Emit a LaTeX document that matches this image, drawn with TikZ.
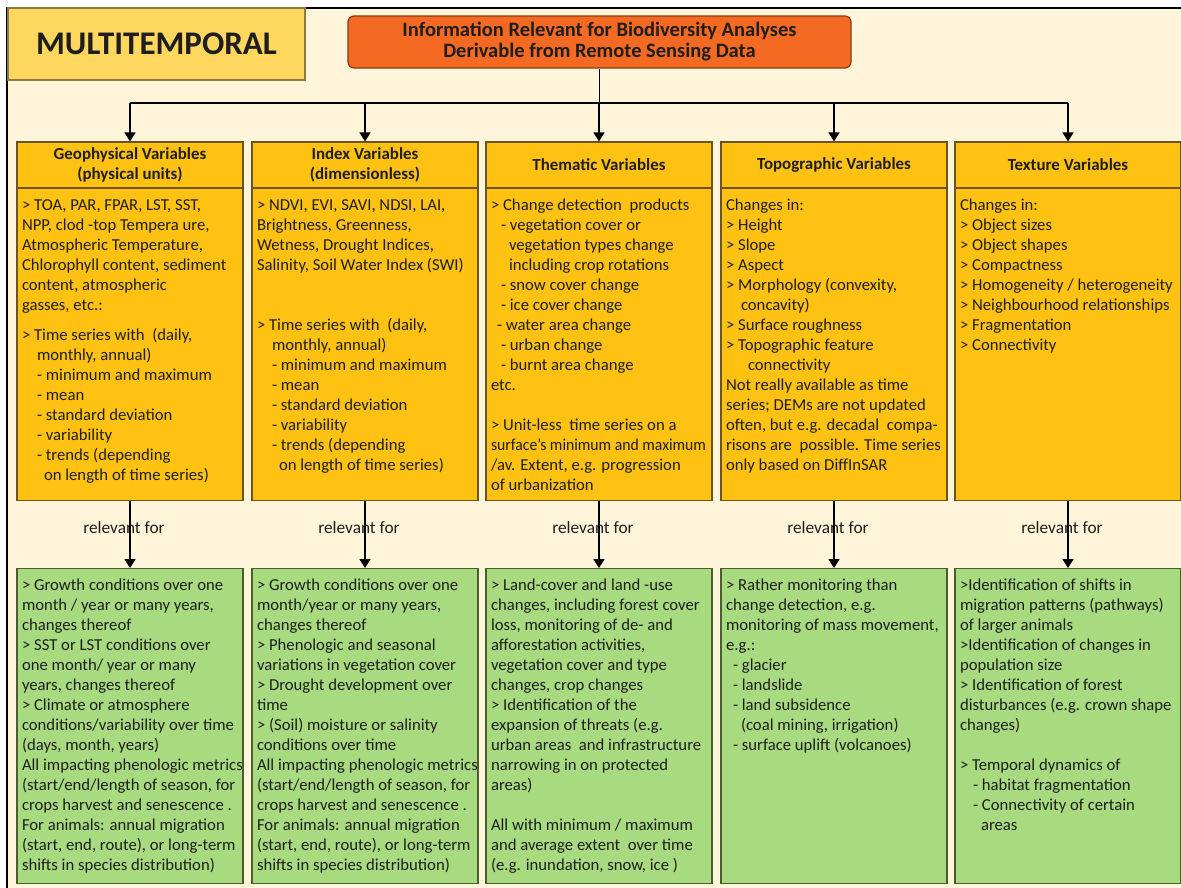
\documentclass[tikz,border=0pt]{standalone}
\usepackage{fontspec}
\setmainfont{Carlito}
\usetikzlibrary{arrows.meta,positioning}

\definecolor{paper}{HTML}{FFF5DA}
\definecolor{gold}{HTML}{FFC212}
\definecolor{goldline}{HTML}{6B5420}
\definecolor{leaf}{HTML}{A8DA80}
\definecolor{leafline}{HTML}{4A5E30}
\definecolor{flame}{HTML}{F46A22}
\definecolor{flameline}{HTML}{8A3A12}
\definecolor{sand}{HTML}{FFD75E}
\definecolor{sandline}{HTML}{8C7A40}
\definecolor{ink}{HTML}{1E1E1E}

% fixed-height text block, one line per row, no automatic wrapping
\newcommand{\boxtext}[2]{\parbox[t][#1][t]{216pt}{\begin{tabular}[t]{@{}l@{}}#2\end{tabular}}}
\newcommand{\ind}[1]{\hspace*{#1pt}}

\begin{document}
\begin{tikzpicture}[
  x=1pt, y=-1pt,
  >={Triangle[width=11pt,length=9pt]},
  font=\fontsize{16.7}{20}\selectfont,
  text=ink,
  tag/.style={draw=sandline,fill=sand,line width=1.2pt,minimum width=297pt,minimum height=72pt,
    font=\fontsize{33}{36}\selectfont\bfseries},
  title/.style={draw=flameline,fill=flame,line width=1.2pt,rounded corners=6pt,
    minimum width=503pt,minimum height=52pt,align=center,
    font=\fontsize{20.5}{21}\selectfont\bfseries},
  varhead/.style={draw=goldline,fill=gold,line width=1.2pt,minimum width=226pt,minimum height=46pt,
    align=center,font=\fontsize{16.9}{20}\selectfont\bfseries},
  varbody/.style={draw=goldline,fill=gold,line width=1.2pt,anchor=north,inner xsep=5pt,inner ysep=8pt},
  useblock/.style={draw=leafline,fill=leaf,line width=1.4pt,anchor=north,inner xsep=5pt,inner ysep=8pt},
  tree/.style={draw=black,line width=1.6pt},
  feed/.style={tree,->},
  relnote/.style={xshift=-6pt,inner sep=0pt,font=\fontsize{17.3}{20}\selectfont},
]
\useasboundingbox (0,0) rectangle (1181,888);
\fill[white] (0,0) rectangle (1181,888);
\fill[paper] (7,8) rectangle (1181,888);
\draw[line width=1.2pt] (7,888) -- (7,8) -- (1181,8);

% ---------- top row ----------
\node[tag]   (tag)   at (156.5,44) {MULTITEMPORAL};
\node[title] (title) at (599.5,42) {Information Relevant for Biodiversity Analyses\\Derivable from Remote Sensing Data};

% ---------- variable groups ----------
\node[varhead] (hd1) at (130,165)  {Geophysical Variables\\(physical units)};
\node[varhead] (hd2) at (365,165)  {Index Variables\\(dimensionless)};
\node[varhead] (hd3) at (599,165)  {Thematic Variables};
\node[varhead] (hd4) at (834,165)  {Topographic Variables};
\node[varhead] (hd5) at (1068,165) {Texture Variables};

\node[varbody] (bd1) at (130,188) {\boxtext{296pt}{%
> TOA, PAR, FPAR, LST, SST,\\
NPP, clod -top Tempera ure,\\
Atmospheric Temperature,\\
Chlorophyll content, sediment\\
content, atmospheric\\
gasses, etc.:\\[10pt]
> Time series with\ \ (daily,\\
\ind{15}monthly, annual)\\
\ind{15}- minimum and maximum\\
\ind{15}- mean\\
\ind{15}- standard deviation\\
\ind{15}- variability\\
\ind{15}- trends (depending\\
\ind{22}on length of time series)}};

\node[varbody] (bd2) at (365,188) {\boxtext{296pt}{%
> NDVI, EVI, SAVI, NDSI, LAI,\\
Brightness, Greenness,\\
Wetness, Drought Indices,\\
Salinity, Soil Water Index (SWI)\\[40pt]
> Time series with\ \ (daily,\\
\ind{15}monthly, annual)\\
\ind{15}- minimum and maximum\\
\ind{15}- mean\\
\ind{15}- standard deviation\\
\ind{15}- variability\\
\ind{15}- trends (depending\\
\ind{22}on length of time series)}};

\node[varbody] (bd3) at (599,188) {\boxtext{296pt}{%
> Change detection\ \ products\\
\ind{10}- vegetation cover or\\
\ind{18}vegetation types change\\
\ind{18}including crop rotations\\
\ind{10}- snow cover change\\
\ind{10}- ice cover change\\
\ind{6}- water area change\\
\ind{10}- urban change\\
\ind{10}- burnt area change\\
etc.\\[20pt]
> Unit-less\ \ time series on a\\
\scalebox{0.94}[1]{surface’s minimum and maximum}\\
/av. Extent, e.g. progression\\
of urbanization}};

\node[varbody] (bd4) at (834,188) {\boxtext{296pt}{%
Changes in:\\
> Height\\
> Slope\\
> Aspect\\
> Morphology (convexity,\\
\ind{15}concavity)\\
> Surface roughness\\
> Topographic feature\\
\ind{22}connectivity\\
Not really available as time\\
series; DEMs are not updated\\
often, but e.g. decadal\ \ compa-\\
risons are\ \ possible. Time series\\
only based on DiffInSAR}};

\node[varbody] (bd5) at (1068,188) {\boxtext{296pt}{%
Changes in:\\
> Object sizes\\
> Object shapes\\
> Compactness\\
> Homogeneity / heterogeneity\\
> Neighbourhood relationships\\
> Fragmentation\\
> Connectivity}};

% ---------- what each group is relevant for ----------
\node[useblock] (us1) at (130,568) {\boxtext{299pt}{%
> Growth conditions over one\\
month / year or many years,\\
changes thereof\\
> SST or LST conditions over\\
one month/ year or many\\
years, changes thereof\\
> Climate or atmosphere\\
conditions/variability over time\\
(days, month, years)\\
All impacting phenologic metrics\\
(start/end/length of season, for\\
crops harvest and senescence .\\
For animals: annual migration\\
(start, end, route), or long-term\\
shifts in species distribution)}};

\node[useblock] (us2) at (365,568) {\boxtext{299pt}{%
> Growth conditions over one\\
month/year or many years,\\
changes thereof\\
> Phenologic and seasonal\\
variations in vegetation cover\\
> Drought development over\\
time\\
> (Soil) moisture or salinity\\
conditions over time\\
All impacting phenologic metrics\\
(start/end/length of season, for\\
crops harvest and senescence .\\
For animals: annual migration\\
(start, end, route), or long-term\\
shifts in species distribution)}};

\node[useblock] (us3) at (599,568) {\boxtext{299pt}{%
> Land-cover and land -use\\
changes, including forest cover\\
loss, monitoring of de- and\\
afforestation activities,\\
vegetation cover and type\\
changes, crop changes\\
> Identification of the\\
expansion of threats (e.g.\\
urban areas\ \ and infrastructure\\
narrowing in on protected\\
areas)\\[20pt]
All with minimum / maximum\\
and average extent\ \ over time\\
(e.g. inundation, snow, ice )}};

\node[useblock] (us4) at (834,568) {\boxtext{299pt}{%
> Rather monitoring than\\
change detection, e.g.\\
monitoring of mass movement,\\
e.g.:\\
\ind{7}- glacier\\
\ind{7}- landslide\\
\ind{7}- land subsidence\\
\ind{15}(coal mining, irrigation)\\
\ind{7}- surface uplift (volcanoes)}};

\node[useblock] (us5) at (1068,568) {\boxtext{299pt}{%
>Identification of shifts in\\
migration patterns (pathways)\\
of larger animals\\
>Identification of changes in\\
population size\\
> Identification of forest\\
disturbances (e.g. crown shape\\
changes)\\[20pt]
> Temporal dynamics of\\
\ind{13}- habitat fragmentation\\
\ind{13}- Connectivity of certain\\
\ind{21}areas}};

% ---------- connectors ----------
\coordinate (busL) at (130,103);
\coordinate (busR) at (1068,103);
\draw[tree] (busL) -- (busR);
\draw[tree] (title.south) -- (title.south |- busL);
\foreach \i in {1,...,5}
  \draw[feed] (hd\i.north |- busL) -- (hd\i.north);
\foreach \i in {1,...,5}
  \draw[feed] (bd\i.south) -- node[relnote,pos=0.4] {relevant for} (us\i.north);

\end{tikzpicture}
\end{document}
